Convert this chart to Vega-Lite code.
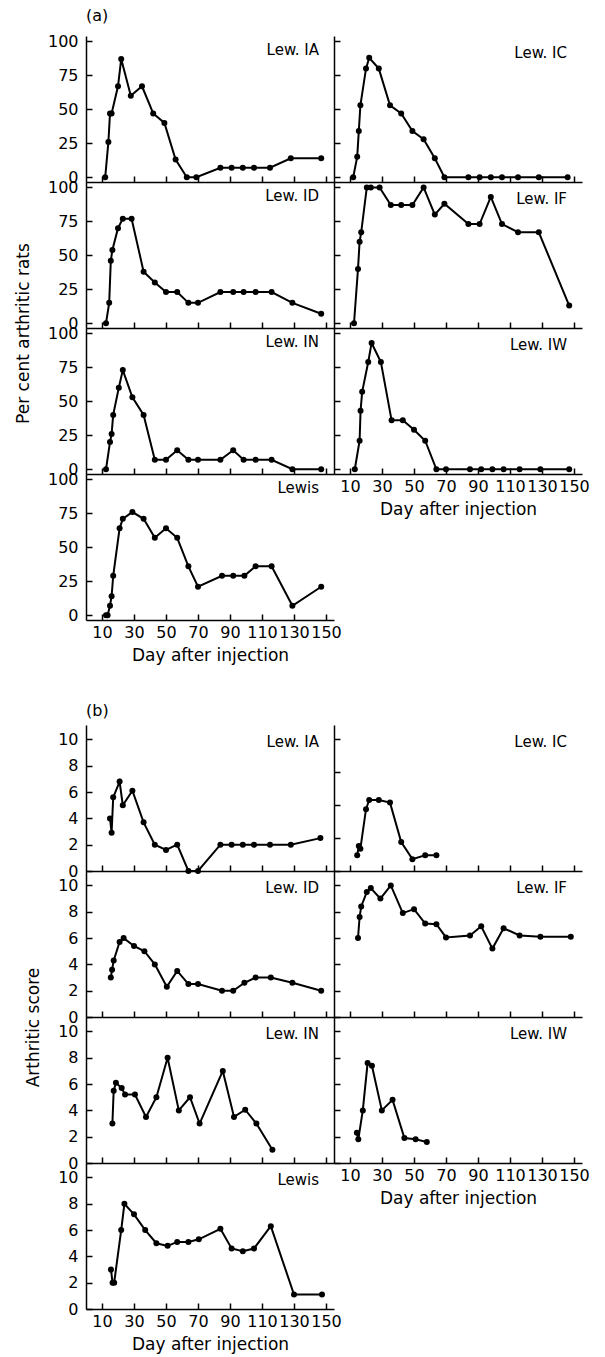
{
"$schema": "https://vega.github.io/schema/vega-lite/v6.json",
"padding": {"left": 14, "top": 8, "right": 5, "bottom": 5},
"title": {"text": "(a)", "anchor": "start", "frame": "group", "offset": -4, "dx": 0, "baseline": "alphabetic", "fontSize": 16},
"datasets": {
"a": [
{"s":"Lew. IA","d":12,"v":0},{"s":"Lew. IA","d":14,"v":26},{"s":"Lew. IA","d":15,"v":47},{"s":"Lew. IA","d":16,"v":47},{"s":"Lew. IA","d":20,"v":67},{"s":"Lew. IA","d":22,"v":87},{"s":"Lew. IA","d":28,"v":60},{"s":"Lew. IA","d":35,"v":67},{"s":"Lew. IA","d":42,"v":47},{"s":"Lew. IA","d":49,"v":40},{"s":"Lew. IA","d":56,"v":13},{"s":"Lew. IA","d":63,"v":0},{"s":"Lew. IA","d":69,"v":0},{"s":"Lew. IA","d":84,"v":7},{"s":"Lew. IA","d":91,"v":7},{"s":"Lew. IA","d":98,"v":7},{"s":"Lew. IA","d":105,"v":7},{"s":"Lew. IA","d":115,"v":7},{"s":"Lew. IA","d":128,"v":14},{"s":"Lew. IA","d":147,"v":14},
{"s":"Lew. IC","d":12,"v":0},{"s":"Lew. IC","d":14.5,"v":15},{"s":"Lew. IC","d":15.5,"v":34},{"s":"Lew. IC","d":16.5,"v":53},{"s":"Lew. IC","d":20,"v":80},{"s":"Lew. IC","d":22,"v":88},{"s":"Lew. IC","d":28,"v":80},{"s":"Lew. IC","d":35,"v":53},{"s":"Lew. IC","d":42,"v":47},{"s":"Lew. IC","d":49,"v":34},{"s":"Lew. IC","d":56,"v":28},{"s":"Lew. IC","d":63,"v":14},{"s":"Lew. IC","d":69,"v":0},{"s":"Lew. IC","d":84,"v":0},{"s":"Lew. IC","d":91,"v":0},{"s":"Lew. IC","d":98,"v":0},{"s":"Lew. IC","d":105,"v":0},{"s":"Lew. IC","d":115,"v":0},{"s":"Lew. IC","d":128,"v":0},{"s":"Lew. IC","d":146,"v":0},
{"s":"Lew. ID","d":12.5,"v":0},{"s":"Lew. ID","d":14.5,"v":15},{"s":"Lew. ID","d":15.5,"v":46},{"s":"Lew. ID","d":16.5,"v":54},{"s":"Lew. ID","d":20,"v":70},{"s":"Lew. ID","d":23,"v":77},{"s":"Lew. ID","d":28.5,"v":77},{"s":"Lew. ID","d":36,"v":38},{"s":"Lew. ID","d":43,"v":30},{"s":"Lew. ID","d":50,"v":23},{"s":"Lew. ID","d":57,"v":23},{"s":"Lew. ID","d":64,"v":15},{"s":"Lew. ID","d":70,"v":15},{"s":"Lew. ID","d":84,"v":23},{"s":"Lew. ID","d":92,"v":23},{"s":"Lew. ID","d":98.5,"v":23},{"s":"Lew. ID","d":106,"v":23},{"s":"Lew. ID","d":116,"v":23},{"s":"Lew. ID","d":129,"v":15},{"s":"Lew. ID","d":147,"v":7},
{"s":"Lew. IF","d":12.5,"v":0},{"s":"Lew. IF","d":15,"v":40},{"s":"Lew. IF","d":16,"v":60},{"s":"Lew. IF","d":17,"v":67},{"s":"Lew. IF","d":20.5,"v":100},{"s":"Lew. IF","d":23,"v":100},{"s":"Lew. IF","d":28.5,"v":100},{"s":"Lew. IF","d":35.5,"v":87},{"s":"Lew. IF","d":42,"v":87},{"s":"Lew. IF","d":49,"v":87},{"s":"Lew. IF","d":56,"v":100},{"s":"Lew. IF","d":63,"v":80},{"s":"Lew. IF","d":69,"v":88},{"s":"Lew. IF","d":84,"v":73},{"s":"Lew. IF","d":91,"v":73},{"s":"Lew. IF","d":98,"v":93},{"s":"Lew. IF","d":105,"v":73},{"s":"Lew. IF","d":115,"v":67},{"s":"Lew. IF","d":128,"v":67},{"s":"Lew. IF","d":147,"v":13},
{"s":"Lew. IN","d":12.5,"v":0},{"s":"Lew. IN","d":15,"v":20},{"s":"Lew. IN","d":16,"v":26},{"s":"Lew. IN","d":17,"v":40},{"s":"Lew. IN","d":20.5,"v":60},{"s":"Lew. IN","d":23,"v":73},{"s":"Lew. IN","d":29,"v":53},{"s":"Lew. IN","d":36,"v":40},{"s":"Lew. IN","d":43,"v":7},{"s":"Lew. IN","d":50,"v":7},{"s":"Lew. IN","d":57,"v":14},{"s":"Lew. IN","d":64,"v":7},{"s":"Lew. IN","d":70,"v":7},{"s":"Lew. IN","d":84,"v":7},{"s":"Lew. IN","d":92,"v":14},{"s":"Lew. IN","d":98.5,"v":7},{"s":"Lew. IN","d":106,"v":7},{"s":"Lew. IN","d":116,"v":7},{"s":"Lew. IN","d":129,"v":0},{"s":"Lew. IN","d":147,"v":0},
{"s":"Lew. IW","d":13,"v":0},{"s":"Lew. IW","d":16,"v":21},{"s":"Lew. IW","d":16.6,"v":43},{"s":"Lew. IW","d":17.6,"v":57},{"s":"Lew. IW","d":21.4,"v":79},{"s":"Lew. IW","d":23.5,"v":93},{"s":"Lew. IW","d":29.3,"v":79},{"s":"Lew. IW","d":36,"v":36},{"s":"Lew. IW","d":43,"v":36},{"s":"Lew. IW","d":50,"v":29},{"s":"Lew. IW","d":57,"v":21},{"s":"Lew. IW","d":64,"v":0},{"s":"Lew. IW","d":70,"v":0},{"s":"Lew. IW","d":85,"v":0},{"s":"Lew. IW","d":92,"v":0},{"s":"Lew. IW","d":99,"v":0},{"s":"Lew. IW","d":106,"v":0},{"s":"Lew. IW","d":116,"v":0},{"s":"Lew. IW","d":129,"v":0},{"s":"Lew. IW","d":147,"v":0},
{"s":"Lewis","d":12.5,"v":0},{"s":"Lewis","d":13.5,"v":0},{"s":"Lewis","d":15,"v":7},{"s":"Lewis","d":16,"v":14},{"s":"Lewis","d":17,"v":29},{"s":"Lewis","d":21,"v":64},{"s":"Lewis","d":23,"v":71},{"s":"Lewis","d":29,"v":76},{"s":"Lewis","d":36,"v":71},{"s":"Lewis","d":43,"v":57},{"s":"Lewis","d":50,"v":64},{"s":"Lewis","d":57,"v":57},{"s":"Lewis","d":64,"v":36},{"s":"Lewis","d":70,"v":21},{"s":"Lewis","d":85,"v":29},{"s":"Lewis","d":92,"v":29},{"s":"Lewis","d":99,"v":29},{"s":"Lewis","d":106,"v":36},{"s":"Lewis","d":116,"v":36},{"s":"Lewis","d":129,"v":7},{"s":"Lewis","d":147,"v":21}
],
"b": [
{"s":"Lew. IA","d":15,"v":4},{"s":"Lew. IA","d":16,"v":2.9},{"s":"Lew. IA","d":17,"v":5.6},{"s":"Lew. IA","d":21,"v":6.8},{"s":"Lew. IA","d":23,"v":5},{"s":"Lew. IA","d":29,"v":6.1},{"s":"Lew. IA","d":36,"v":3.7},{"s":"Lew. IA","d":43,"v":2},{"s":"Lew. IA","d":50,"v":1.6},{"s":"Lew. IA","d":57,"v":2},{"s":"Lew. IA","d":64,"v":0},{"s":"Lew. IA","d":70,"v":0},{"s":"Lew. IA","d":84,"v":2},{"s":"Lew. IA","d":91,"v":2},{"s":"Lew. IA","d":98,"v":2},{"s":"Lew. IA","d":105,"v":2},{"s":"Lew. IA","d":115,"v":2},{"s":"Lew. IA","d":128,"v":2},{"s":"Lew. IA","d":146.5,"v":2.5},
{"s":"Lew. IC","d":14.5,"v":1.2},{"s":"Lew. IC","d":15.5,"v":1.9},{"s":"Lew. IC","d":16.5,"v":1.7},{"s":"Lew. IC","d":20,"v":4.7},{"s":"Lew. IC","d":22,"v":5.4},{"s":"Lew. IC","d":28,"v":5.4},{"s":"Lew. IC","d":35,"v":5.2},{"s":"Lew. IC","d":42,"v":2.2},{"s":"Lew. IC","d":49,"v":0.9},{"s":"Lew. IC","d":57,"v":1.2},{"s":"Lew. IC","d":64,"v":1.2},
{"s":"Lew. ID","d":15.5,"v":3},{"s":"Lew. ID","d":16.3,"v":3.6},{"s":"Lew. ID","d":17.3,"v":4.3},{"s":"Lew. ID","d":21,"v":5.7},{"s":"Lew. ID","d":23.5,"v":6},{"s":"Lew. ID","d":30,"v":5.4},{"s":"Lew. ID","d":36.5,"v":5},{"s":"Lew. ID","d":43,"v":4},{"s":"Lew. ID","d":50.5,"v":2.3},{"s":"Lew. ID","d":57,"v":3.5},{"s":"Lew. ID","d":64,"v":2.5},{"s":"Lew. ID","d":70,"v":2.5},{"s":"Lew. ID","d":85,"v":2},{"s":"Lew. ID","d":92,"v":2},{"s":"Lew. ID","d":99,"v":2.6},{"s":"Lew. ID","d":106,"v":3},{"s":"Lew. ID","d":115.5,"v":3},{"s":"Lew. ID","d":129,"v":2.6},{"s":"Lew. ID","d":147,"v":2},
{"s":"Lew. IF","d":15,"v":6},{"s":"Lew. IF","d":16,"v":7.6},{"s":"Lew. IF","d":17,"v":8.4},{"s":"Lew. IF","d":20.5,"v":9.5},{"s":"Lew. IF","d":23,"v":9.8},{"s":"Lew. IF","d":29,"v":9},{"s":"Lew. IF","d":35.5,"v":10},{"s":"Lew. IF","d":43,"v":7.9},{"s":"Lew. IF","d":50,"v":8.2},{"s":"Lew. IF","d":57,"v":7.1},{"s":"Lew. IF","d":64,"v":7.05},{"s":"Lew. IF","d":70,"v":6.05},{"s":"Lew. IF","d":85,"v":6.2},{"s":"Lew. IF","d":92,"v":6.9},{"s":"Lew. IF","d":99,"v":5.2},{"s":"Lew. IF","d":106,"v":6.75},{"s":"Lew. IF","d":116,"v":6.2},{"s":"Lew. IF","d":129,"v":6.1},{"s":"Lew. IF","d":148,"v":6.1},
{"s":"Lew. IN","d":16.5,"v":3},{"s":"Lew. IN","d":17.3,"v":5.5},{"s":"Lew. IN","d":18.7,"v":6.1},{"s":"Lew. IN","d":22.3,"v":5.7},{"s":"Lew. IN","d":24.4,"v":5.2},{"s":"Lew. IN","d":30.6,"v":5.2},{"s":"Lew. IN","d":37.5,"v":3.5},{"s":"Lew. IN","d":44,"v":5},{"s":"Lew. IN","d":51,"v":8},{"s":"Lew. IN","d":58,"v":4},{"s":"Lew. IN","d":65,"v":5},{"s":"Lew. IN","d":71,"v":3},{"s":"Lew. IN","d":85.5,"v":7},{"s":"Lew. IN","d":92.5,"v":3.5},{"s":"Lew. IN","d":99.5,"v":4.05},{"s":"Lew. IN","d":106.5,"v":3},{"s":"Lew. IN","d":116.5,"v":1},
{"s":"Lew. IW","d":14.3,"v":2.3},{"s":"Lew. IW","d":15.2,"v":1.8},{"s":"Lew. IW","d":18,"v":4},{"s":"Lew. IW","d":21,"v":7.6},{"s":"Lew. IW","d":23.7,"v":7.4},{"s":"Lew. IW","d":29.9,"v":4},{"s":"Lew. IW","d":36.6,"v":4.8},{"s":"Lew. IW","d":44,"v":1.9},{"s":"Lew. IW","d":51,"v":1.8},{"s":"Lew. IW","d":58,"v":1.6},
{"s":"Lewis","d":15.6,"v":3},{"s":"Lewis","d":16.6,"v":2},{"s":"Lewis","d":17.6,"v":2},{"s":"Lewis","d":22,"v":6},{"s":"Lewis","d":24,"v":8},{"s":"Lewis","d":30,"v":7.2},{"s":"Lewis","d":37,"v":6},{"s":"Lewis","d":44,"v":5},{"s":"Lewis","d":51,"v":4.8},{"s":"Lewis","d":57,"v":5.1},{"s":"Lewis","d":64,"v":5.1},{"s":"Lewis","d":70.5,"v":5.3},{"s":"Lewis","d":84,"v":6.1},{"s":"Lewis","d":91,"v":4.6},{"s":"Lewis","d":98,"v":4.4},{"s":"Lewis","d":105,"v":4.6},{"s":"Lewis","d":115.5,"v":6.3},{"s":"Lewis","d":130,"v":1.1},{"s":"Lewis","d":147.5,"v":1.1}
]
},
"columns": 2,
"spacing": 0,
"bounds": "flush",
"concat": [
{"width":248,"height":146,"data":{"name":"a"},"title":"Lew. IA","transform":[{"filter":"datum.s === 'Lew. IA'"}],
 "mark":{"type":"line","color":"black","strokeWidth":2,"point":{"filled":true,"size":36,"color":"black","opacity":1}},
 "encoding":{"x":{"field":"d","type":"quantitative","scale":{"domain":[0,155],"nice":false,"zero":false},"axis":{"values":[10,30,50,70,90,110,130,150],"labels":false,"title":null}},
  "y":{"field":"v","type":"quantitative","scale":{"domain":[-3.5,104],"nice":false,"zero":false},"axis":{"values":[0,25,50,75,100],"title":null}}}},
{"width":248,"height":146,"data":{"name":"a"},"title":"Lew. IC","transform":[{"filter":"datum.s === 'Lew. IC'"}],
 "mark":{"type":"line","color":"black","strokeWidth":2,"point":{"filled":true,"size":36,"color":"black","opacity":1}},
 "encoding":{"x":{"field":"d","type":"quantitative","scale":{"domain":[0,155],"nice":false,"zero":false},"axis":{"values":[10,30,50,70,90,110,130,150],"labels":false,"title":null}},
  "y":{"field":"v","type":"quantitative","scale":{"domain":[-3.5,104],"nice":false,"zero":false},"axis":{"values":[0,25,50,75,100],"labels":false,"title":null}}}},
{"width":248,"height":146,"data":{"name":"a"},"title":"Lew. ID","transform":[{"filter":"datum.s === 'Lew. ID'"}],
 "mark":{"type":"line","color":"black","strokeWidth":2,"point":{"filled":true,"size":36,"color":"black","opacity":1}},
 "encoding":{"x":{"field":"d","type":"quantitative","scale":{"domain":[0,155],"nice":false,"zero":false},"axis":{"values":[10,30,50,70,90,110,130,150],"labels":false,"title":null}},
  "y":{"field":"v","type":"quantitative","scale":{"domain":[-3.5,104],"nice":false,"zero":false},"axis":{"values":[0,25,50,75,100],"title":"Per cent arthritic rats","titleY":151}}}},
{"width":248,"height":146,"data":{"name":"a"},"title":"Lew. IF","transform":[{"filter":"datum.s === 'Lew. IF'"}],
 "mark":{"type":"line","color":"black","strokeWidth":2,"point":{"filled":true,"size":36,"color":"black","opacity":1}},
 "encoding":{"x":{"field":"d","type":"quantitative","scale":{"domain":[0,155],"nice":false,"zero":false},"axis":{"values":[10,30,50,70,90,110,130,150],"labels":false,"title":null}},
  "y":{"field":"v","type":"quantitative","scale":{"domain":[-3.5,104],"nice":false,"zero":false},"axis":{"values":[0,25,50,75,100],"labels":false,"title":null}}}},
{"width":248,"height":146,"data":{"name":"a"},"title":"Lew. IN","transform":[{"filter":"datum.s === 'Lew. IN'"}],
 "mark":{"type":"line","color":"black","strokeWidth":2,"point":{"filled":true,"size":36,"color":"black","opacity":1}},
 "encoding":{"x":{"field":"d","type":"quantitative","scale":{"domain":[0,155],"nice":false,"zero":false},"axis":{"values":[10,30,50,70,90,110,130,150],"labels":false,"title":null}},
  "y":{"field":"v","type":"quantitative","scale":{"domain":[-3.5,104],"nice":false,"zero":false},"axis":{"values":[0,25,50,75,100],"title":null}}}},
{"width":248,"height":146,"data":{"name":"a"},"title":"Lew. IW","transform":[{"filter":"datum.s === 'Lew. IW'"}],
 "mark":{"type":"line","color":"black","strokeWidth":2,"point":{"filled":true,"size":36,"color":"black","opacity":1}},
 "encoding":{"x":{"field":"d","type":"quantitative","scale":{"domain":[0,155],"nice":false,"zero":false},"axis":{"values":[10,30,50,70,90,110,130,150],"title":"Day after injection"}},
  "y":{"field":"v","type":"quantitative","scale":{"domain":[-3.5,104],"nice":false,"zero":false},"axis":{"values":[0,25,50,75,100],"labels":false,"title":null}}}},
{"width":248,"height":146,"data":{"name":"a"},"title":"Lewis","transform":[{"filter":"datum.s === 'Lewis'"}],
 "mark":{"type":"line","color":"black","strokeWidth":2,"point":{"filled":true,"size":36,"color":"black","opacity":1}},
 "encoding":{"x":{"field":"d","type":"quantitative","scale":{"domain":[0,155],"nice":false,"zero":false},"axis":{"values":[10,30,50,70,90,110,130,150],"title":"Day after injection"}},
  "y":{"field":"v","type":"quantitative","scale":{"domain":[-3.5,104],"nice":false,"zero":false},"axis":{"values":[0,25,50,75,100],"title":null}}}},
{"width":248,"height":146,"data":{"values":[{"k":1}]},"mark":{"type":"point","opacity":0}},
{"width":248,"height":105,"data":{"values":[{"k":1}]},"mark":{"type":"point","opacity":0},
 "title":{"text":"(b)","orient":"bottom","anchor":"start","frame":"group","offset":-9,"dx":0,"baseline":"alphabetic","fontSize":16}},
{"width":248,"height":105,"data":{"values":[{"k":1}]},"mark":{"type":"point","opacity":0}},
{"width":248,"height":146,"data":{"name":"b"},"title":"Lew. IA","transform":[{"filter":"datum.s === 'Lew. IA'"}],
 "mark":{"type":"line","color":"black","strokeWidth":2,"point":{"filled":true,"size":36,"color":"black","opacity":1}},
 "encoding":{"x":{"field":"d","type":"quantitative","scale":{"domain":[0,155],"nice":false,"zero":false},"axis":{"values":[10,30,50,70,90,110,130,150],"labels":false,"title":null}},
  "y":{"field":"v","type":"quantitative","scale":{"domain":[0,11.1],"nice":false,"zero":false},"axis":{"values":[0,2,4,6,8,10],"title":null}}}},
{"width":248,"height":146,"data":{"name":"b"},"title":"Lew. IC","transform":[{"filter":"datum.s === 'Lew. IC'"}],
 "mark":{"type":"line","color":"black","strokeWidth":2,"point":{"filled":true,"size":36,"color":"black","opacity":1}},
 "encoding":{"x":{"field":"d","type":"quantitative","scale":{"domain":[0,155],"nice":false,"zero":false},"axis":{"values":[10,30,50,70,90,110,130,150],"labels":false,"title":null}},
  "y":{"field":"v","type":"quantitative","scale":{"domain":[0,11.1],"nice":false,"zero":false},"axis":{"values":[0,2.5,5,7.5,10],"labels":false,"title":null}}}},
{"width":248,"height":146,"data":{"name":"b"},"title":"Lew. ID","transform":[{"filter":"datum.s === 'Lew. ID'"}],
 "mark":{"type":"line","color":"black","strokeWidth":2,"point":{"filled":true,"size":36,"color":"black","opacity":1}},
 "encoding":{"x":{"field":"d","type":"quantitative","scale":{"domain":[0,155],"nice":false,"zero":false},"axis":{"values":[10,30,50,70,90,110,130,150],"labels":false,"title":null}},
  "y":{"field":"v","type":"quantitative","scale":{"domain":[0,11.1],"nice":false,"zero":false},"axis":{"values":[0,2,4,6,8,10],"title":"Arthritic score","titleY":156}}}},
{"width":248,"height":146,"data":{"name":"b"},"title":"Lew. IF","transform":[{"filter":"datum.s === 'Lew. IF'"}],
 "mark":{"type":"line","color":"black","strokeWidth":2,"point":{"filled":true,"size":36,"color":"black","opacity":1}},
 "encoding":{"x":{"field":"d","type":"quantitative","scale":{"domain":[0,155],"nice":false,"zero":false},"axis":{"values":[10,30,50,70,90,110,130,150],"labels":false,"title":null}},
  "y":{"field":"v","type":"quantitative","scale":{"domain":[0,11.1],"nice":false,"zero":false},"axis":{"values":[0,2,4,6,8,10],"labels":false,"title":null}}}},
{"width":248,"height":146,"data":{"name":"b"},"title":"Lew. IN","transform":[{"filter":"datum.s === 'Lew. IN'"}],
 "mark":{"type":"line","color":"black","strokeWidth":2,"point":{"filled":true,"size":36,"color":"black","opacity":1}},
 "encoding":{"x":{"field":"d","type":"quantitative","scale":{"domain":[0,155],"nice":false,"zero":false},"axis":{"values":[10,30,50,70,90,110,130,150],"labels":false,"title":null}},
  "y":{"field":"v","type":"quantitative","scale":{"domain":[0,11.1],"nice":false,"zero":false},"axis":{"values":[0,2,4,6,8,10],"title":null}}}},
{"width":248,"height":146,"data":{"name":"b"},"title":"Lew. IW","transform":[{"filter":"datum.s === 'Lew. IW'"}],
 "mark":{"type":"line","color":"black","strokeWidth":2,"point":{"filled":true,"size":36,"color":"black","opacity":1}},
 "encoding":{"x":{"field":"d","type":"quantitative","scale":{"domain":[0,155],"nice":false,"zero":false},"axis":{"values":[10,30,50,70,90,110,130,150],"title":"Day after injection"}},
  "y":{"field":"v","type":"quantitative","scale":{"domain":[0,11.1],"nice":false,"zero":false},"axis":{"values":[0,2,4,6,8,10],"labels":false,"title":null}}}},
{"width":248,"height":146,"data":{"name":"b"},"title":"Lewis","transform":[{"filter":"datum.s === 'Lewis'"}],
 "mark":{"type":"line","color":"black","strokeWidth":2,"point":{"filled":true,"size":36,"color":"black","opacity":1}},
 "encoding":{"x":{"field":"d","type":"quantitative","scale":{"domain":[0,155],"nice":false,"zero":false},"axis":{"values":[10,30,50,70,90,110,130,150],"title":"Day after injection"}},
  "y":{"field":"v","type":"quantitative","scale":{"domain":[0,11.1],"nice":false,"zero":false},"axis":{"values":[0,2,4,6,8,10],"title":null}}}}
],
"config": {
 "background": "white",
 "view": {"stroke": null},
 "font": "DejaVu Sans",
 "title": {"anchor": "end", "frame": "group", "offset": -25, "dx": -15, "baseline": "alphabetic", "fontSize": 15, "fontWeight": "normal", "font": "DejaVu Sans", "color": "black"},
 "axis": {"grid": false, "domainColor": "black", "domainWidth": 1.5, "tickColor": "black", "tickWidth": 1.5, "tickSize": -6, "labelFont": "DejaVu Sans", "labelFontSize": 16, "labelColor": "black", "labelFlush": false, "labelOverlap": false, "titleFont": "DejaVu Sans", "titleFontSize": 17, "titleFontWeight": "normal", "titleColor": "black"},
 "axisX": {"labelPadding": 10, "titlePadding": 7},
 "axisY": {"labelPadding": 14, "titlePadding": 15}
}
}
